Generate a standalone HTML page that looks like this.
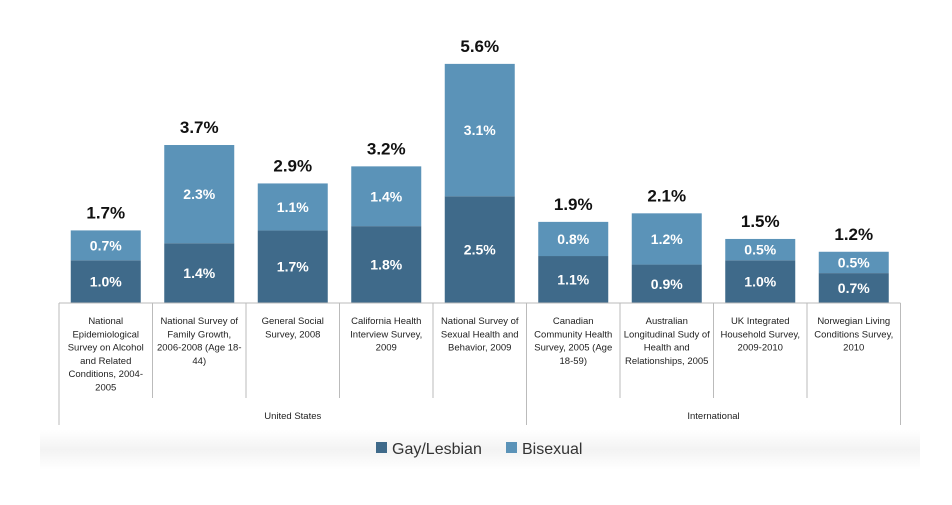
<!DOCTYPE html>
<html><head><meta charset="utf-8">
<style>
body{margin:0;background:#fff;}
svg{display:block;font-family:"Liberation Sans",sans-serif;}
</style></head>
<body>
<svg width="952" height="505" viewBox="0 0 952 505">
<defs><linearGradient id="bg" x1="0" y1="0" x2="0" y2="1"><stop offset="0" stop-color="#fff"/><stop offset="0.5" stop-color="#f3f3f3"/><stop offset="1" stop-color="#fff"/></linearGradient></defs>
<rect x="40" y="430" width="880" height="40" fill="url(#bg)"/>
<g id="plot"></g>
<g>
<rect x="376" y="442" width="11" height="11" fill="#3f6a8a"/>
<text x="392" y="454" font-size="16" fill="#333">Gay/Lesbian</text>
<rect x="506" y="442" width="11" height="11" fill="#5b93b8"/>
<text x="522" y="454" font-size="16" fill="#333">Bisexual</text>
</g>
</svg>
<script>
const categories=[
["National","Epidemiological","Survey on Alcohol","and Related","Conditions, 2004-","2005"],
["National Survey of","Family Growth,","2006-2008 (Age 18-","44)"],
["General Social","Survey, 2008"],
["California Health","Interview Survey,","2009"],
["National Survey of","Sexual Health and","Behavior, 2009"],
["Canadian","Community Health","Survey, 2005 (Age","18-59)"],
["Australian","Longitudinal Sudy of","Health and","Relationships, 2005"],
["UK Integrated","Household Survey,","2009-2010"],
["Norwegian Living","Conditions Survey,","2010"]];
const gay=[1.0,1.4,1.7,1.8,2.5,1.1,0.9,1.0,0.7];
const bi=[0.7,2.3,1.1,1.4,3.1,0.8,1.2,0.5,0.5];
const totals=["1.7%","3.7%","2.9%","3.2%","5.6%","1.9%","2.1%","1.5%","1.2%"];
const groups=[["United States",0,5],["International",5,9]];

const NS="http://www.w3.org/2000/svg";
const g=document.getElementById('plot');
const x0=59,step=93.5,bw=70,base=303,k=42.7;
const xs=i=>x0+i*step;
const ys=v=>base-v*k;
function mk(t,a,p){const e=document.createElementNS(NS,t);for(const n in a)e.setAttribute(n,a[n]);(p||g).appendChild(e);return e;}
categories.forEach((c,i)=>{
  const bx=xs(i)+(step-bw)/2, cx=xs(i)+step/2;
  const r1=mk('rect',{x:bx,y:ys(gay[i]),width:bw,height:gay[i]*k,fill:'#3f6a8a'});
  
  
  const r2=mk('rect',{x:bx,y:ys(gay[i]+bi[i]),width:bw,height:bi[i]*k,fill:'#5b93b8'});
  
  
  const t1=mk('text',{x:cx,y:ys(gay[i]/2)+5,'text-anchor':'middle','font-size':14,'font-weight':'bold',fill:'#fff'});
  t1.textContent=gay[i].toFixed(1)+'%';
  
  
  const t2=mk('text',{x:cx,y:ys(gay[i]+bi[i]/2)+5,'text-anchor':'middle','font-size':14,'font-weight':'bold',fill:'#fff'});
  t2.textContent=bi[i].toFixed(1)+'%';
  
  
  const t3=mk('text',{x:cx,y:ys(gay[i]+bi[i])-12,'text-anchor':'middle','font-size':17,'font-weight':'bold',fill:'#111'});
  t3.textContent=totals[i];
  
  
  const lt=mk('text',{'text-anchor':'middle','font-size':9.5,fill:'#222'});
  
  
  c.forEach((s,j)=>{const ts=mk('tspan',{x:cx,y:324+j*13.3},lt);ts.textContent=s;});
});
mk('line',{x1:x0,y1:base,x2:xs(9),y2:base,stroke:'#bbb'});
for(let i=0;i<=9;i++){
  const outer=(i===0||i===5||i===9);
  const l=mk('line',{x1:xs(i),y1:base,x2:xs(i),y2:outer?425:398,stroke:'#bbb'});
  
  
}
groups.forEach(([n,a,b])=>{
  const t=mk('text',{x:(xs(a)+xs(b))/2,y:419,'text-anchor':'middle','font-size':9.5,fill:'#222'});
  t.textContent=n;
  
  
});
</script>
</body></html>
